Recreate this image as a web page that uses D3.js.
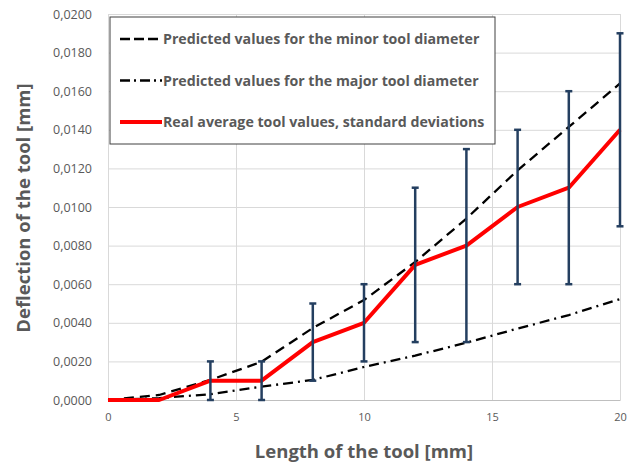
<!DOCTYPE html>
<html lang="en">
<head>
<meta charset="utf-8">
<script src="https://d3js.org/d3.v7.min.js"></script>
<style>
  body { margin: 0; background: #fff; }
  text { font-family: "Open Sans", sans-serif; }
</style>
</head>
<body>
<svg width="632" height="466" id="svg1"></svg>
<script>
  var lengths = [0, 2, 4, 6, 8, 10, 12, 14, 16, 18, 20];
  var minorPred = [0, 0.00026, 0.00104, 0.00198, 0.00373, 0.00518, 0.00715, 0.0094, 0.0119, 0.01415, 0.0164];
  var majorPred = [0, 0.0001, 0.0003, 0.00069, 0.00104, 0.00171, 0.0023, 0.00297, 0.0037, 0.0044, 0.00523];
  var realAvg = [0, 0, 0.001, 0.001, 0.003, 0.004, 0.007, 0.008, 0.010, 0.011, 0.014];
  var errLow  = [0, 0, 0.000, 0.000, 0.001, 0.002, 0.003, 0.003, 0.006, 0.006, 0.009];
  var errHigh = [0, 0, 0.002, 0.002, 0.005, 0.006, 0.011, 0.013, 0.014, 0.016, 0.019];
  var xTicks = [0, 5, 10, 15, 20];
  var yTicks = d3.range(0, 0.02001, 0.002);
  var legendLabels = ["Predicted values for the minor tool diameter",
                      "Predicted values for the major tool diameter",
                      "Real average tool values, standard deviations"];

  var svg = d3.select("#svg1");
  var margin = {top: 14, left: 108, right: 12, bottom: 66};
  var width = 620 - margin.left;
  var height = 400 - margin.top;
  var g = svg.append("g").attr("transform", `translate(${margin.left}, ${margin.top})`);

  var xScale = d3.scaleLinear().domain([0, 20]).range([0, width]);
  var yScale = d3.scaleLinear().domain([0, 0.02]).range([height, 0]);
  var fmt = function(d) { return d3.format(".4f")(d).replace(".", ","); };

  // gridlines
  g.append("g").call(d3.axisLeft(yScale).tickValues(yTicks).tickSize(-width).tickFormat(""))
    .call(s => s.select(".domain").remove())
    .selectAll("line").attr("stroke", "#d9d9d9");
  g.append("g").attr("transform", `translate(0, ${height})`)
    .call(d3.axisBottom(xScale).tickValues(xTicks).tickSize(-height).tickFormat(""))
    .call(s => s.select(".domain").remove())
    .selectAll("line").attr("stroke", "#d9d9d9");

  // axes labels
  var yAxis = g.append("g").call(d3.axisLeft(yScale).tickValues(yTicks).tickSize(0).tickPadding(16).tickFormat(fmt));
  yAxis.select(".domain").remove();
  yAxis.selectAll("text").attr("fill", "#595959").style("font-size", "12.5px").style("font-family", "Open Sans");
  var xAxis = g.append("g").attr("transform", `translate(0, ${height})`)
    .call(d3.axisBottom(xScale).tickValues(xTicks).tickSize(0).tickPadding(13));
  xAxis.select(".domain").attr("stroke", "#bfbfbf");
  xAxis.selectAll("text").attr("fill", "#595959").style("font-size", "11px").style("font-family", "Open Sans");

  var pts = function(arr) { return lengths.map((l, i) => [l, arr[i]]); };
  var line = d3.line().x(d => xScale(d[0])).y(d => yScale(d[1]));

  g.append("path").datum(pts(majorPred)).attr("d", line).attr("fill", "none")
    .attr("stroke", "#000").attr("stroke-width", 2.3).attr("stroke-dasharray", "10,5,2,5");
  g.append("path").datum(pts(minorPred)).attr("d", line).attr("fill", "none")
    .attr("stroke", "#000").attr("stroke-width", 2.3).attr("stroke-dasharray", "10,6");
  g.append("path").datum(pts(realAvg)).attr("d", line).attr("fill", "none")
    .attr("stroke", "#ff0000").attr("stroke-width", 4).attr("stroke-linejoin", "round");

  // error bars
  var eb = g.append("g").attr("stroke", "#243f60").attr("stroke-width", 2.5);
  lengths.forEach(function(l, i) {
    if (errHigh[i] - errLow[i] <= 0) return;
    var x = xScale(l);
    eb.append("line").attr("x1", x).attr("x2", x).attr("y1", yScale(errLow[i])).attr("y2", yScale(errHigh[i]));
    [errLow[i], errHigh[i]].forEach(function(v) {
      eb.append("line").attr("x1", x - 3.5).attr("x2", x + 3.5).attr("y1", yScale(v)).attr("y2", yScale(v));
    });
  });

  // legend
  var lg = svg.append("g").attr("transform", "translate(110, 17)");
  lg.append("rect").attr("width", 385).attr("height", 127).attr("fill", "#fff")
    .attr("stroke", "#404040").attr("stroke-width", 1);
  var styles = [
    {dash: "10,4", color: "#000", w: 2.5},
    {dash: "10,4,2,4", color: "#000", w: 2.5},
    {dash: null, color: "#ff0000", w: 4}
  ];
  legendLabels.forEach(function(t, i) {
    var y = 22 + i * 41.5;
    lg.append("line").attr("x1", 10).attr("x2", 52).attr("y1", y).attr("y2", y)
      .attr("stroke", styles[i].color).attr("stroke-width", styles[i].w)
      .attr("stroke-dasharray", styles[i].dash);
    lg.append("text").attr("x", 53).attr("y", y + 5).text(t)
      .attr("fill", "#595959").style("font-weight", "bold").style("font-size", "14.2px");
  });

  // axis titles
  svg.append("text").attr("x", 364).attr("y", 458).attr("text-anchor", "middle")
    .attr("fill", "#595959").style("font-weight", "bold").style("font-size", "18.5px")
    .text("Length of the tool [mm]");
  svg.append("text").attr("transform", "translate(30, 208) rotate(-90)").attr("text-anchor", "middle")
    .attr("fill", "#595959").style("font-weight", "bold").style("font-size", "18.5px")
    .text("Deflection of the tool [mm]");
</script>
</body>
</html>
